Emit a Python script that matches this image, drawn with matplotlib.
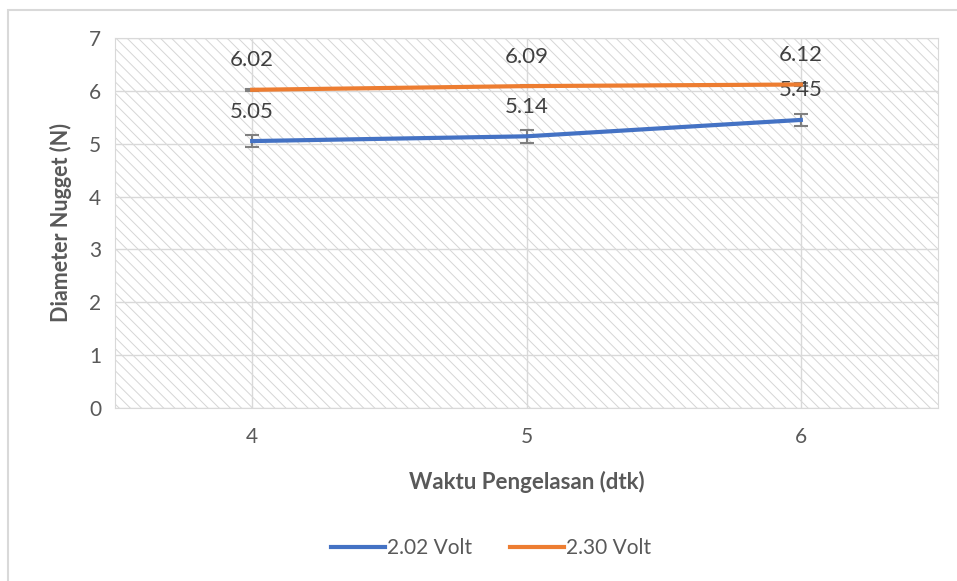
import matplotlib.pyplot as plt
from matplotlib.patches import Rectangle

plt.rcParams['font.family'] = ['Lato', 'DejaVu Sans']
plt.rcParams['hatch.linewidth'] = 0.7
plt.rcParams['hatch.color'] = '#d6d6d6'

waktu = [4, 5, 6]
volt_202 = [5.05, 5.14, 5.45]
volt_230 = [6.02, 6.09, 6.12]
err_202 = [0.12, 0.12, 0.12]
err_230 = [0.02, 0.02, 0.02]
labels = ['2.02 Volt', '2.30 Volt']

fig = plt.figure(figsize=(9.57, 5.81), dpi=100)
ax = fig.add_axes([115 / 957, 1 - 408 / 581, 823 / 957, 370 / 581])

# hatched plot area
ax.add_patch(Rectangle((0, 0), 1, 1, transform=ax.transAxes, facecolor='white',
                       edgecolor='#d6d6d6', hatch='\\\\\\', lw=0, zorder=0))
ax.set_axisbelow(True)
ax.grid(True, color='#d9d9d9', lw=1)

ax.errorbar(waktu, volt_202, yerr=err_202, color='#4472c4', lw=3,
            ecolor='#808080', elinewidth=1.5, capsize=5, capthick=1.5, label=labels[0], zorder=3)
ax.errorbar(waktu, volt_230, yerr=err_230, color='#ed7d31', lw=3,
            ecolor='#808080', elinewidth=1.5, capsize=5, capthick=1.5, label=labels[1], zorder=3)

for series in (volt_202, volt_230):
    for x, y in zip(waktu, series):
        ax.annotate(f'{y:.2f}', (x, y), xytext=(0, 14), textcoords='offset points',
                    ha='center', va='bottom', fontsize=16, color='#404040')

ax.set_xlim(3.5, 6.5)
ax.set_ylim(0, 7)
ax.set_xticks(waktu)
ax.set_yticks(range(0, 8))
ax.tick_params(length=0, labelsize=15, labelcolor='#595959', pad=10)
ax.tick_params(axis='x', pad=14)
for s in ax.spines.values():
    s.set_color('#d9d9d9')

ax.set_xlabel('Waktu Pengelasan (dtk)', fontsize=16, fontweight='bold', color='#595959', labelpad=17)
ax.set_ylabel('Diameter Nugget (N)', fontsize=15.5, fontweight='bold', color='#595959', labelpad=12)

handles, _ = ax.get_legend_handles_labels()
lines = [h[0] for h in handles]
fig.legend(lines, labels, loc='center', bbox_to_anchor=(491 / 957, 1 - 548 / 581), ncol=2,
           frameon=False, fontsize=15, labelcolor='#595959', handlelength=2.6,
           handletextpad=0.1, columnspacing=1.8)

# light border around the chart
fig.add_artist(Rectangle((8 / 957, -0.1), 1.2, 1.1 - 10 / 581, transform=fig.transFigure,
                         fill=False, edgecolor='#d9d9d9', lw=1.5))

fig.savefig('out.png', dpi=100)
